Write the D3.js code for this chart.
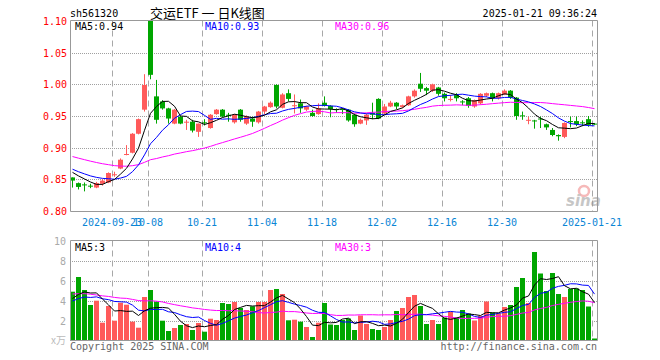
<!DOCTYPE html>
<html>
<head>
<meta charset="utf-8">
<script src="https://cdn.jsdelivr.net/npm/d3@7/dist/d3.min.js"></script>
<style>
    body { margin: 0; background: #fff; }
    svg { display: block; }
    text { font-family: "DejaVu Sans Mono", monospace; font-size: 10px; }
</style>
</head>
<body>
<svg id="chart" width="660" height="360"></svg>
<script>
// 交运ETF sh561320, daily K-line 2024-09-10 .. 2025-01-21 (one entry per trading day)
const open = [
    0.853, 0.844, 0.842, 0.840, 0.837, 0.843, 0.845, 0.857, 0.867, 0.889,
    0.892, 0.922, 0.960, 1.100, 0.981, 0.973, 0.962, 0.938, 0.949, 0.940,
    0.941, 0.925, 0.940, 0.931, 0.953, 0.960, 0.952, 0.940, 0.960, 0.938,
    0.946, 0.940, 0.957, 0.964, 0.999, 0.963, 0.986, 0.966, 0.970, 0.960,
    0.955, 0.953, 0.971, 0.966, 0.961, 0.961, 0.960, 0.952, 0.938, 0.943,
    0.955, 0.977, 0.954, 0.965, 0.971, 0.964, 0.967, 0.981, 1.001, 0.994,
    0.990, 0.995, 0.985, 0.976, 0.983, 0.973, 0.978, 0.965, 0.970, 0.982,
    0.986, 0.978, 0.984, 0.990, 0.979, 0.951, 0.943, 0.943, 0.946, 0.937,
    0.928, 0.920, 0.917, 0.942, 0.942, 0.940, 0.945, 0.938
];
const high = [
    0.853, 0.845, 0.845, 0.843, 0.846, 0.850, 0.861, 0.862, 0.883, 0.904,
    0.923, 0.946, 1.016, 1.100, 1.007, 0.975, 0.963, 0.961, 0.950, 0.944,
    0.944, 0.938, 0.945, 0.953, 0.961, 0.961, 0.955, 0.953, 0.961, 0.951,
    0.949, 0.958, 0.966, 0.973, 1.000, 0.986, 0.992, 0.984, 0.976, 0.966,
    0.960, 0.970, 0.981, 0.967, 0.962, 0.962, 0.961, 0.954, 0.946, 0.954,
    0.971, 0.978, 0.969, 0.974, 0.972, 0.968, 0.982, 0.992, 1.018, 0.996,
    1.001, 0.996, 0.987, 0.983, 0.986, 0.975, 0.980, 0.976, 0.986, 0.987,
    0.987, 0.987, 0.992, 0.991, 0.980, 0.957, 0.949, 0.944, 0.949, 0.938,
    0.931, 0.921, 0.940, 0.949, 0.949, 0.943, 0.950, 0.939
];
const low = [
    0.837, 0.834, 0.831, 0.836, 0.836, 0.840, 0.844, 0.854, 0.866, 0.888,
    0.891, 0.921, 0.957, 1.008, 0.938, 0.960, 0.938, 0.937, 0.937, 0.928,
    0.924, 0.917, 0.935, 0.930, 0.952, 0.948, 0.941, 0.938, 0.941, 0.936,
    0.933, 0.938, 0.953, 0.963, 0.962, 0.962, 0.973, 0.954, 0.955, 0.958,
    0.949, 0.952, 0.965, 0.948, 0.955, 0.953, 0.941, 0.933, 0.937, 0.936,
    0.945, 0.945, 0.952, 0.964, 0.961, 0.963, 0.966, 0.979, 0.988, 0.983,
    0.988, 0.982, 0.973, 0.973, 0.973, 0.967, 0.963, 0.963, 0.968, 0.980,
    0.973, 0.976, 0.983, 0.977, 0.944, 0.944, 0.937, 0.930, 0.931, 0.928,
    0.918, 0.911, 0.915, 0.932, 0.934, 0.934, 0.933, 0.936
];
const close = [
    0.848, 0.838, 0.841, 0.839, 0.844, 0.848, 0.860, 0.858, 0.881, 0.890,
    0.922, 0.945, 0.999, 1.015, 0.944, 0.962, 0.946, 0.960, 0.938, 0.941,
    0.927, 0.938, 0.939, 0.952, 0.960, 0.949, 0.951, 0.952, 0.944, 0.949,
    0.941, 0.957, 0.965, 0.971, 0.965, 0.984, 0.977, 0.967, 0.962, 0.965,
    0.950, 0.962, 0.966, 0.961, 0.960, 0.960, 0.943, 0.937, 0.944, 0.952,
    0.952, 0.946, 0.965, 0.971, 0.965, 0.967, 0.981, 0.990, 0.993, 0.990,
    1.000, 0.985, 0.978, 0.977, 0.978, 0.972, 0.966, 0.975, 0.985, 0.986,
    0.978, 0.986, 0.990, 0.979, 0.950, 0.950, 0.944, 0.942, 0.945, 0.932,
    0.920, 0.918, 0.939, 0.941, 0.937, 0.939, 0.936, 0.937
];
// volume, 万
const volume = [
    4.88, 6.35, 5.05, 3.55, 3.98, 1.78, 3.45, 1.98, 3.78, 3.58,
    1.88, 1.28, 4.35, 5.05, 3.88, 1.98, 0.95, 1.25, 1.55, 1.65,
    1.05, 1.75, 0.88, 2.18, 2.05, 3.75, 3.65, 3.85, 3.25, 3.05,
    3.42, 3.85, 3.85, 5.05, 5.15, 4.65, 2.02, 2.08, 1.88, 1.35,
    0.35, 1.78, 3.75, 1.60, 1.55, 2.05, 2.20, 1.05, 2.50, 1.65,
    1.15, 1.05, 1.35, 2.05, 2.95, 3.25, 4.35, 4.55, 3.45, 1.65,
    2.05, 1.65, 2.30, 2.90, 2.30, 3.05, 2.70, 2.00, 2.45, 3.90,
    2.80, 2.70, 3.35, 3.55, 5.35, 6.25, 3.75, 8.85, 6.70, 4.95,
    6.75, 4.65, 4.35, 5.15, 5.20, 5.05, 3.40, 0.20
];
// days before the window (not drawn), estimated from where the MA lines start
const priorClose = [
    0.915, 0.912, 0.910, 0.908, 0.906, 0.905, 0.904, 0.900,
    0.898, 0.896, 0.894, 0.892, 0.890, 0.889, 0.887, 0.886, 0.884, 0.883, 0.881, 0.880,
    0.878, 0.875, 0.871, 0.867, 0.864,
    0.866, 0.865, 0.863, 0.863
];
const priorVolume = [
    5.6, 4.8, 5.3, 6.1, 4.5, 5.2, 4.9, 5.8, 4.4, 5.0,
    4.7, 5.5, 4.6, 5.1, 4.3, 5.4, 4.8, 5.0, 4.6, 4.4,
    3.9, 3.5, 4.0, 3.4, 3.7,
    4.3, 3.8, 4.1, 3.92
];

const priceTicks = [1.10, 1.05, 1.00, 0.95, 0.90, 0.85, 0.80];
const volumeTicks = [10, 8, 6, 4, 2];
const dateTickIndex = [7, 13, 22, 32, 42, 52, 62, 72, 87];
const dateTickLabels = ['2024-09-23', '10-08', '10-21', '11-04', '11-18', '12-02', '12-16', '12-30', '2025-01-21'];

const UP = '#ff5a5a', DOWN = '#00a600';
const MA_COLORS = { 5: '#000000', 10: '#0000ff', 30: '#ff00ff' };

function movingAvg(prior, values, n) {
    const all = prior.concat(values);
    const off = prior.length;
    return values.map((_, i) => d3.mean(all.slice(off + i - n + 1, off + i + 1)));
}

class KLineChart {
    constructor(svgId) {
        this.svg = d3.select(svgId);
        this.x = d3.scaleLinear().domain([0, 88]).range([70, 598]);
        this.y = d3.scaleLinear().domain([0.80, 1.10]).range([211, 21]);
        this.yv = d3.scaleLinear().domain([0, 10]).range([340.5, 240.5]);
        this.cx = i => this.x(i) + 2.5;

        this.drawHeader();
        this.drawPricePanel();
        this.drawVolumePanel();
        this.drawFooter();
    }

    drawHeader() {
        this.svg.append('text').attr('x', 70).attr('y', 16.5).attr('fill', '#000').text('sh561320');
        this.svg.append('text').attr('x', 150).attr('y', 17.5)
            .style('font-family', '"Noto Sans CJK SC", sans-serif').style('font-size', '13px')
            .attr('fill', '#000').text('交运ETF\u00a0一\u00a0日K线图');
        this.svg.append('text').attr('x', 597).attr('y', 16.5).attr('text-anchor', 'end')
            .attr('fill', '#000').text('2025-01-21 09:36:24');
    }

    grid(g, yLines, top, bottom) {
        g.selectAll('.hgrid').data(yLines).enter().append('line')
            .attr('x1', 70).attr('x2', 598)
            .attr('y1', d => Math.round(d) + 0.5).attr('y2', d => Math.round(d) + 0.5)
            .attr('stroke', '#a0a0a0').attr('stroke-dasharray', '1,1');
        g.selectAll('.vgrid').data(dateTickIndex).enter().append('line')
            .attr('x1', d => this.x(d) + 0.5).attr('x2', d => this.x(d) + 0.5)
            .attr('y1', top).attr('y2', bottom)
            .attr('stroke', '#a8a8a8').attr('stroke-dasharray', '6,4');
    }

    frame(g, top, bottom) {
        g.append('path')
            .attr('d', `M70.5,${top}V${bottom}H597.5V${top}Z`)
            .attr('fill', 'none').attr('stroke', '#999');
    }

    drawPricePanel() {
        const g = this.svg.append('g');
        const y = this.y;
        this.grid(g, priceTicks.slice(1, -1).map(y), 20.5, 211.5);

        // sina watermark
        const logo = g.append('g').attr('opacity', 0.55);
        logo.append('circle').attr('cx', 584).attr('cy', 191).attr('r', 5)
            .attr('fill', 'none').attr('stroke', '#f08080').attr('stroke-width', 2.5);
        logo.append('text').attr('x', 566).attr('y', 206)
            .style('font-family', '"DejaVu Sans", sans-serif').style('font-size', '15px')
            .style('font-style', 'italic').style('font-weight', 'bold')
            .attr('fill', '#999').text('sina');

        const candles = g.append('g').selectAll('g').data(close).enter().append('g')
            .attr('fill', (d, i) => close[i] >= open[i] ? UP : DOWN)
            .attr('stroke', (d, i) => close[i] >= open[i] ? UP : DOWN);
        candles.append('line')
            .attr('x1', (d, i) => this.cx(i)).attr('x2', (d, i) => this.cx(i))
            .attr('y1', (d, i) => y(high[i])).attr('y2', (d, i) => y(low[i]));
        candles.append('rect')
            .attr('stroke', 'none')
            .attr('x', (d, i) => this.x(i)).attr('width', 5)
            .attr('y', (d, i) => y(Math.max(open[i], close[i])))
            .attr('height', (d, i) => Math.max(1, y(Math.min(open[i], close[i])) - y(Math.max(open[i], close[i]))));

        const line = d3.line().x((d, i) => this.cx(i)).y(d => y(d));
        const labelX = { 5: 75, 10: 205, 30: 335 };
        [30, 10, 5].forEach(n => {
            const ma = movingAvg(priorClose, close, n);
            g.append('path').attr('d', line(ma)).attr('fill', 'none')
                .attr('stroke', MA_COLORS[n]).attr('stroke-width', 1);
            g.append('text').attr('x', labelX[n]).attr('y', 30).attr('fill', MA_COLORS[n])
                .text(`MA${n}:${ma[ma.length - 1].toFixed(2)}`);
        });

        this.frame(g, 20.5, 211.5);

        g.selectAll('.plabel').data(priceTicks).enter().append('text')
            .attr('x', 67).attr('y', d => y(d) + 4).attr('text-anchor', 'end')
            .attr('fill', '#ff0000').text(d => d.toFixed(2));

        g.selectAll('.dlabel').data(dateTickIndex).enter().append('text')
            .attr('x', d => this.x(d)).attr('y', 226).attr('text-anchor', 'middle')
            .attr('fill', '#0a85d5').text((d, i) => dateTickLabels[i]);
    }

    drawVolumePanel() {
        const g = this.svg.append('g');
        const yv = this.yv;
        this.grid(g, volumeTicks.slice(1).map(yv), 240.5, 340.5);

        g.append('g').selectAll('rect').data(volume).enter().append('rect')
            .attr('x', (d, i) => this.x(i)).attr('width', 5)
            .attr('y', d => yv(d)).attr('height', d => yv(0) - yv(d))
            .attr('fill', (d, i) => close[i] >= open[i] ? UP : DOWN);

        const line = d3.line().x((d, i) => this.cx(i)).y(d => yv(d));
        const labelX = { 5: 75, 10: 205, 30: 335 };
        [30, 10, 5].forEach(n => {
            const ma = movingAvg(priorVolume, volume, n);
            g.append('path').attr('d', line(ma)).attr('fill', 'none')
                .attr('stroke', MA_COLORS[n]).attr('stroke-width', 1);
            g.append('text').attr('x', labelX[n]).attr('y', 250.5).attr('fill', MA_COLORS[n])
                .text(`MA${n}:${Math.floor(ma[ma.length - 1])}`);
        });

        this.frame(g, 240.5, 340.5);

        g.selectAll('.vlabel').data(volumeTicks).enter().append('text')
            .attr('x', 66).attr('y', d => yv(d) + 4).attr('text-anchor', 'end')
            .attr('fill', '#aaa').text(d => d);
        g.append('text').attr('x', 66).attr('y', 344).attr('text-anchor', 'end')
            .style('font-family', '"Noto Sans CJK SC", sans-serif')
            .attr('fill', '#bbb').text('x万');
    }

    drawFooter() {
        this.svg.append('text').attr('x', 70).attr('y', 350).attr('fill', '#666')
            .text('Copyright 2025 SINA.COM');
        this.svg.append('text').attr('x', 597).attr('y', 350).attr('text-anchor', 'end')
            .attr('fill', '#666').text('http://finance.sina.com.cn');
    }
}

new KLineChart('#chart');
</script>
</body>
</html>
